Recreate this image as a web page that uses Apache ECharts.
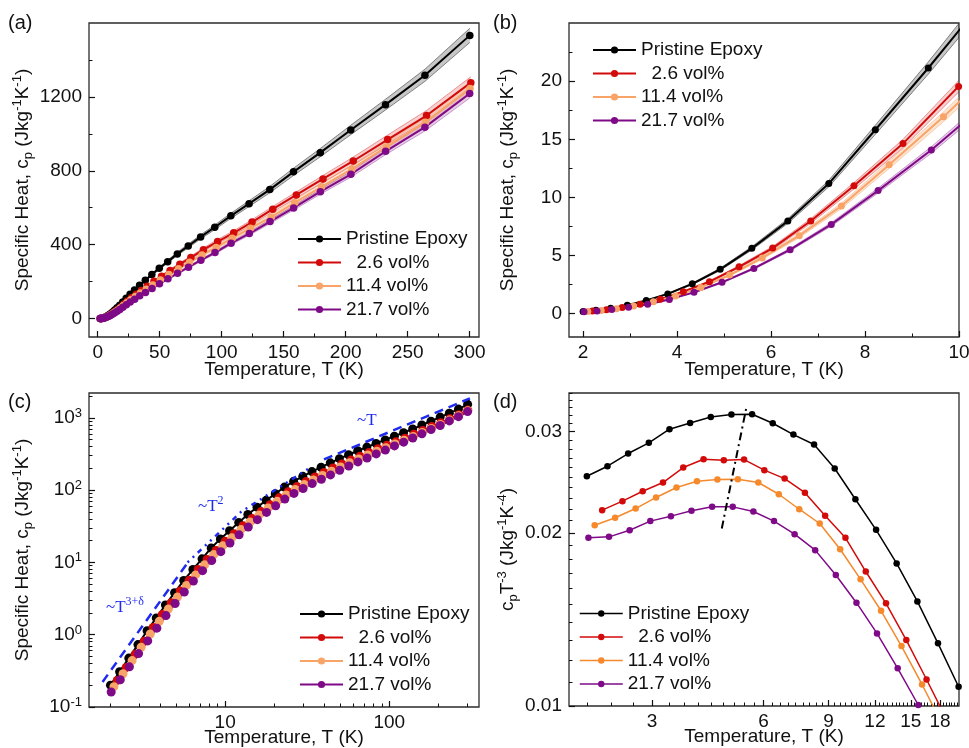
<!DOCTYPE html>
<html lang="en">
<head>
<meta charset="utf-8">
<title>Specific heat of epoxy composites</title>
<script src="https://cdn.jsdelivr.net/npm/echarts@6.0.0/dist/echarts.min.js"></script>
<style>
  html, body { margin: 0; padding: 0; background: #ffffff; }
  #chart { width: 969px; height: 748px; }
</style>
</head>
<body>
<div id="chart"></div>
<script>
// ---- measured data ---------------------------------------------------------
// Pristine epoxy: temperature (K) and specific heat cp (J kg^-1 K^-1)
const tEpoxy = [2.000, 2.274, 2.586, 2.941, 3.344, 3.802, 4.324, 4.917, 5.591, 6.357,
  7.229, 8.220, 9.347, 10.63, 12.09, 13.74, 15.63, 17.77, 20.20, 22.97,
  26.12, 29.71, 33.78, 38.41, 43.68, 49.66, 56.47, 64.22, 73.02, 83.03,
  94.42, 107.4, 122.1, 138.8, 157.9, 179.5, 204.1, 232.1, 263.9, 300.1];
const cpEpoxy = [0.2006, 0.3070, 0.4750, 0.7293, 1.132, 1.707, 2.571, 3.816, 5.624, 7.966,
  11.19, 15.82, 21.13, 27.47, 35.72, 45.91, 57.99, 72.08, 89.07, 110,
  132, 155, 180, 207, 238, 272, 308, 350, 393, 442,
  494, 556, 622, 698, 794, 898, 1021, 1158, 1317, 1533];

// 2.6 vol% composite
const t26 = [2.200, 2.496, 2.831, 3.212, 3.643, 4.133, 4.689, 5.319, 6.034, 6.845,
  7.765, 8.808, 9.992, 11.34, 12.86, 14.59, 16.55, 18.77, 21.29, 24.16,
  27.40, 31.09, 35.26, 40.00, 45.38, 51.48, 58.40, 66.25, 75.15, 85.25,
  96.71, 109.7, 124.5, 141.2, 160.2, 181.7, 206.1, 233.8, 265.2, 300.9];
const cp26 = [0.2332, 0.3530, 0.5359, 0.8106, 1.256, 1.896, 2.757, 4.035, 5.646, 7.970,
  11.00, 14.63, 19.55, 24.95, 32.06, 40.41, 50.38, 62.6, 78, 94.6,
  112, 131, 152, 175, 202, 229, 260, 294, 330, 373,
  417, 464, 522, 592, 669, 756, 853, 969, 1099, 1277];

// 11.4 vol% composite
const t114 = [2.100, 2.385, 2.709, 3.076, 3.494, 3.968, 4.506, 5.118, 5.812, 6.601,
  7.497, 8.514, 9.669, 10.98, 12.47, 14.16, 16.09, 18.27, 20.75, 23.56,
  26.76, 30.39, 34.52, 39.20, 44.52, 50.56, 57.43, 65.22, 74.07, 84.12,
  95.54, 108.5, 123.2, 140.0, 158.9, 180.5, 205.0, 232.8, 264.4, 300.3];
const cp114 = [0.1910, 0.2882, 0.4382, 0.6705, 1.023, 1.536, 2.265, 3.323, 4.802, 6.713,
  9.262, 12.81, 16.93, 21.98, 28.40, 36.12, 45.37, 56.6, 69.9, 85.6,
  102, 119, 138, 159, 182, 209, 238, 270, 305, 344,
  385, 435, 489, 549, 627, 713, 810, 929, 1063, 1246];

// 21.7 vol% composite
const t217 = [2.020, 2.296, 2.610, 2.968, 3.374, 3.835, 4.360, 4.957, 5.635, 6.406,
  7.282, 8.278, 9.411, 10.70, 12.16, 13.83, 15.72, 17.87, 20.31, 23.09,
  26.25, 29.84, 33.92, 38.56, 43.84, 49.84, 56.66, 64.41, 73.22, 83.23,
  94.62, 107.6, 122.3, 139.0, 158.0, 179.6, 204.2, 232.2, 263.9, 300.0];
const cp217 = [0.1615, 0.2382, 0.3593, 0.5481, 0.8212, 1.232, 1.839, 2.703, 3.897, 5.510,
  7.681, 10.59, 14.08, 18.52, 24.05, 30.74, 38.99, 49.1, 60.5, 75,
  90, 105, 123, 141, 162, 188, 215, 245, 278, 316,
  357, 408, 460, 525, 599, 687, 781, 905, 1036, 1218];

// cp/T^3 (J kg^-1 K^-4) at the low-temperature points (first entries of the T lists)
const ratioEpoxy = [0.02508, 0.02611, 0.02747, 0.02867, 0.03028, 0.03105, 0.03180, 0.03212, 0.03215, 0.03101,
  0.02963, 0.02848, 0.02587, 0.02288, 0.02024, 0.01769, 0.01520, 0.01285, 0.01080];
const ratio26 = [0.02190, 0.02270, 0.02362, 0.02446, 0.02597, 0.02685, 0.02674, 0.02681, 0.02570, 0.02485,
  0.02349, 0.02141, 0.01960, 0.01713, 0.01508, 0.01302, 0.01112, 0.00946];
const ratio114 = [0.02062, 0.02124, 0.02204, 0.02304, 0.02398, 0.02459, 0.02476, 0.02479, 0.02446, 0.02334,
  0.02198, 0.02076, 0.01873, 0.01660, 0.01464, 0.01271, 0.01090, 0.00929];
const ratio217 = [0.01960, 0.01968, 0.02021, 0.02096, 0.02138, 0.02184, 0.02219, 0.02219, 0.02178, 0.02096,
  0.01989, 0.01866, 0.01689, 0.01512, 0.01337, 0.01163, 0.01004, 0.00861];

// relative measurement uncertainty (shaded bands)
const errEpoxy = 0.025, err26 = 0.025, err114 = 0.025, err217 = 0.02;

// power-law guide lines [T, cp] and the peak-shift guide [T, cp/T^3]
const guideCubic = [[1.79, 0.222], [5.82, 9.44]];
const guideSquare = [[5.9, 10.0], [12.5, 50], [33, 205]];
const guideLinear = [[40, 266], [310, 1854]];
const guidePeak = [[4.63, 0.02035], [5.41, 0.0333]];

// axis tick labels
const ticksAx = [0, 50, 100, 150, 200, 250, 300];
const ticksAy = [0, 400, 800, 1200];
const ticksBx = [2, 4, 6, 8, 10];
const ticksBy = [0, 5, 10, 15, 20];
const ticksCx = [10, 100];
const ticksCy = [0.1, 1, 10, 100, 1000];
const ticksDx = [3, 6, 9, 12, 15, 18];
const ticksDy = [0.01, 0.02, 0.03];

// ---- styling ---------------------------------------------------------------
const FONT = '"Liberation Sans", Arial, Helvetica, sans-serif';
const SERIF = '"Liberation Serif", "Times New Roman", Times, serif';
const INK = '#111111';
const BLUE = '#1f2bef';

const samples = [
  { key: 'ep', name: 'Pristine Epoxy', t: tEpoxy, cp: cpEpoxy, ratio: ratioEpoxy, err: errEpoxy,
    color: '#000000', colorD: '#000000', fill: 'rgba(0,0,0,0.22)', edge: 'rgba(50,50,50,0.7)' },
  { key: 'v26', name: '  2.6 vol%', t: t26, cp: cp26, ratio: ratio26, err: err26,
    color: '#d20a0a', colorD: '#d20a0a', fill: 'rgba(215,20,20,0.20)', edge: 'rgba(215,20,20,0.5)' },
  { key: 'v114', name: '11.4 vol%', t: t114, cp: cp114, ratio: ratio114, err: err114,
    color: '#f8a468', colorD: '#f5892c', fill: 'rgba(248,160,100,0.28)', edge: 'rgba(245,150,80,0.5)' },
  { key: 'v217', name: '21.7 vol%', t: t217, cp: cp217, ratio: ratio217, err: err217,
    color: '#7f0a87', colorD: '#7f0a87', fill: 'rgba(128,10,135,0.20)', edge: 'rgba(128,10,135,0.45)' }
];

function zip(xs, ys) { return ys.map((y, i) => [xs[i], y]); }

// minor tick positions
function logMinor(decades) {
  const out = [];
  decades.forEach(d => { for (let k = 2; k <= 9; k++) out.push(+(k * d).toPrecision(3)); });
  return out;
}
const minorAx = [25, 75, 125, 175, 225, 275];
const minorAy = [200, 600, 1000, 1400];
const minorBx = [3, 5, 7, 9];
const minorBy = [2.5, 7.5, 12.5, 17.5, 22.5];
const minorCx = logMinor([1, 10]).concat([200, 300]);
const minorCy = logMinor([0.1, 1, 10, 100]).concat([2000]);
const minorDx = [];
for (let k = 6; k <= 60; k++) if (k % 9 !== 0) minorDx.push(+(k / 3).toFixed(4));
const minorDy = [];
for (let k = 11; k <= 35; k++) if (k !== 20 && k !== 30) minorDy.push(k / 1000);

// ---- layout ----------------------------------------------------------------
const grids = [
  { left: 89, top: 23, width: 390, height: 314 },
  { left: 569, top: 23, width: 390, height: 314 },
  { left: 89, top: 393, width: 390, height: 314 },
  { left: 569, top: 393, width: 390, height: 313 }
].map(g => Object.assign({
  show: true, borderColor: '#2b2b2b', borderWidth: 1.3, backgroundColor: 'transparent',
  containLabel: false, outerBoundsMode: 'none'
}, g));

const nameStyle = {
  fontSize: 19, fontFamily: FONT, color: INK, lineHeight: 24,
  rich: {
    sub: { fontSize: 13, fontFamily: FONT, color: INK, lineHeight: 13, verticalAlign: 'bottom' },
    sup: { fontSize: 13, fontFamily: FONT, color: INK, lineHeight: 13, verticalAlign: 'top' }
  }
};

function axis(gi, type, range, labels, opts) {
  const ax = {
    gridIndex: gi, type: type, min: range[0], max: range[1], position: opts.position,
    axisLine: { show: false, onZero: false },
    splitLine: { show: false },
    axisTick: { show: true, inside: true, length: 6, customValues: labels,
      lineStyle: { color: INK, width: 1.2 } },
    axisLabel: { show: true, customValues: labels, margin: opts.margin, fontSize: 19,
      fontFamily: FONT, color: INK, formatter: opts.formatter || (v => String(v)) },
    name: opts.name, nameLocation: 'middle', nameGap: opts.nameGap,
    nameTextStyle: nameStyle, nameMoveOverlap: false, silent: true
  };
  if (opts.rich) ax.axisLabel.rich = opts.rich;
  if (type === 'log') ax.logBase = 10;
  return ax;
}
function minorAxis(gi, type, range, ticks, position) {
  const ax = {
    gridIndex: gi, type: type, min: range[0], max: range[1], position: position,
    axisLine: { show: false, onZero: false }, splitLine: { show: false },
    axisTick: { show: true, inside: true, length: 3.5, customValues: ticks,
      lineStyle: { color: INK, width: 1 } },
    axisLabel: { show: false }, silent: true
  };
  if (type === 'log') ax.logBase = 10;
  return ax;
}

const rangeAx = [-7, 307.5], rangeAy = [-100, 1600];
const rangeBx = [1.7, 10], rangeBy = [-2, 25];
const rangeCx = [1.48, 352], rangeCy = [0.1, 2200];
const rangeDx = [1.79, 20.25], rangeDy = [0.01, 0.035];

const xTitle = 'Temperature, T (K)';
const cpTitle = 'Specific Heat, c{sub|p} (Jkg{sup|-1}K{sup|-1})';
const ratioTitle = 'c{sub|p}T{sup|-3} (Jkg{sup|-1}K{sup|-4})';

const powerRich = {
  b: { fontSize: 19, fontFamily: FONT, color: INK, lineHeight: 22 },
  e: { fontSize: 13, fontFamily: FONT, color: INK, lineHeight: 12, verticalAlign: 'top' }
};

const xAxis = [
  axis(0, 'value', rangeAx, ticksAx, { position: 'bottom', margin: 6.5, name: xTitle, nameGap: 21 }),
  minorAxis(0, 'value', rangeAx, minorAx, 'bottom'),
  axis(1, 'value', rangeBx, ticksBx, { position: 'bottom', margin: 6.5, name: xTitle, nameGap: 21 }),
  minorAxis(1, 'value', rangeBx, minorBx, 'bottom'),
  axis(2, 'log', rangeCx, ticksCx, { position: 'bottom', margin: 6.5, name: xTitle, nameGap: 19 }),
  minorAxis(2, 'log', rangeCx, minorCx, 'bottom'),
  axis(3, 'log', rangeDx, ticksDx, { position: 'bottom', margin: 6.5, name: xTitle, nameGap: 19 }),
  minorAxis(3, 'log', rangeDx, minorDx, 'bottom')
];
const yAxis = [
  axis(0, 'value', rangeAy, ticksAy, { position: 'left', margin: 7, name: cpTitle, nameGap: 54 }),
  minorAxis(0, 'value', rangeAy, minorAy, 'left'),
  axis(1, 'value', rangeBy, ticksBy, { position: 'left', margin: 7, name: cpTitle, nameGap: 49 }),
  minorAxis(1, 'value', rangeBy, minorBy, 'left'),
  axis(2, 'log', rangeCy, ticksCy, { position: 'left', margin: 7, name: cpTitle, nameGap: 54,
    formatter: v => '{b|10}{e|' + Math.round(Math.log10(v)) + '}', rich: powerRich }),
  minorAxis(2, 'log', rangeCy, minorCy, 'left'),
  axis(3, 'log', rangeDy, ticksDy, { position: 'left', margin: 7, name: ratioTitle, nameGap: 49,
    formatter: v => v.toFixed(2) }),
  minorAxis(3, 'log', rangeDy, minorDy, 'left')
];

// ---- series ----------------------------------------------------------------
function curve(s, p, data, color, size, width) {
  return {
    type: 'line', name: s.name, xAxisIndex: 2 * p, yAxisIndex: 2 * p, data: data,
    symbol: 'circle', symbolSize: size, lineStyle: { color: color, width: width },
    itemStyle: { color: color }, emphasis: { disabled: true }, z: 3, clip: true, silent: true
  };
}
// shaded uncertainty band: polygon between cp(1-err) and cp(1+err)
function band(s, p) {
  const lo = s.cp.map((c, i) => [s.t[i], c * (1 - s.err)]);
  const hi = s.cp.map((c, i) => [s.t[i], c * (1 + s.err)]);
  return {
    type: 'custom', xAxisIndex: 2 * p, yAxisIndex: 2 * p, clip: true, silent: true, z: 1,
    data: [[s.t[0], s.cp[0]]],
    renderItem: function (params, api) {
      const loPts = lo.map(d => api.coord(d));
      const hiPts = hi.map(d => api.coord(d));
      return {
        type: 'group',
        children: [
          { type: 'polygon', shape: { points: loPts.concat(hiPts.slice().reverse()) },
            style: { fill: s.fill, stroke: null } },
          { type: 'polyline', shape: { points: loPts }, style: { fill: null, stroke: s.edge, lineWidth: 0.8 } },
          { type: 'polyline', shape: { points: hiPts }, style: { fill: null, stroke: s.edge, lineWidth: 0.8 } }
        ]
      };
    }
  };
}
function guide(p, data, style) {
  return { type: 'line', xAxisIndex: 2 * p, yAxisIndex: 2 * p, data: data, symbol: 'none',
    lineStyle: style, z: 4, silent: true, clip: true, emphasis: { disabled: true } };
}

const series = [];
samples.forEach(s => series.push(curve(s, 0, zip(s.t, s.cp), s.color, 7.5, 2)));
samples.forEach(s => series.push(band(s, 0)));
samples.forEach(s => series.push(band(s, 1)));
samples.forEach(s => series.push(curve(s, 1, zip(s.t, s.cp), s.color, 7, 2)));
samples.forEach(s => series.push(curve(s, 2, zip(s.t, s.cp), s.color, 9, 2)));
series.push(guide(2, guideCubic, { color: BLUE, width: 2.5, type: [9, 6] }));
series.push(guide(2, guideSquare, { color: BLUE, width: 2.5, type: [2, 5, 2, 5, 5, 5] }));
series.push(guide(2, guideLinear, { color: BLUE, width: 2.5, type: [9, 6] }));
samples.forEach(s => series.push(curve(s, 3, zip(s.t, s.ratio), s.colorD, 6.5, 1.5)));
series.push(guide(3, guidePeak, { color: '#000000', width: 2, type: [8, 4, 2, 4] }));

// ---- legends ---------------------------------------------------------------
function legend(left, top, itemHeight, lowT) {
  return {
    orient: 'vertical', left: left, top: top, padding: 0, itemWidth: 43, itemHeight: itemHeight,
    itemGap: 4.5, selectedMode: false,
    textStyle: { fontSize: 19, fontFamily: FONT, color: INK, lineHeight: 19 },
    data: samples.map(s => lowT
      ? { name: s.name, itemStyle: { color: s.colorD }, lineStyle: { color: s.colorD, width: 1.5 } }
      : s.name)
  };
}

// ---- text overlays ---------------------------------------------------------
function panelTag(left, top, text) {
  return { type: 'text', left: left, top: top, z: 10, silent: true,
    style: { text: text, font: '20px ' + FONT, fill: INK } };
}
function powerNote(left, top, main, exp) {
  return { type: 'text', left: left, top: top, z: 10, silent: true,
    style: {
      text: '{m|' + main + '}' + (exp ? '{s|' + exp + '}' : ''),
      rich: {
        m: { fontSize: 17, fontFamily: SERIF, fill: BLUE, lineHeight: 20, verticalAlign: 'bottom' },
        s: { fontSize: 12, fontFamily: SERIF, fill: BLUE, lineHeight: 12, verticalAlign: 'top' }
      }
    } };
}

const option = {
  animation: false,
  backgroundColor: '#ffffff',
  textStyle: { fontFamily: FONT },
  grid: grids,
  xAxis: xAxis,
  yAxis: yAxis,
  legend: [
    legend(297, 229.5, 9, false),
    legend(592, 40.5, 9, false),
    legend(299, 604.5, 9, false),
    legend(579, 604, 8, true)
  ],
  series: series,
  graphic: [
    panelTag(8, 13, '(a)'),
    panelTag(493, 13, '(b)'),
    panelTag(8, 392, '(c)'),
    panelTag(493, 392, '(d)'),
    powerNote(106, 596, '~T', '3+δ'),
    powerNote(198, 495, '~T', '2'),
    powerNote(357, 412, '~T', '')
  ]
};

const chart = echarts.init(document.getElementById('chart'), null, { renderer: 'canvas' });
chart.setOption(option);
</script>
</body>
</html>
